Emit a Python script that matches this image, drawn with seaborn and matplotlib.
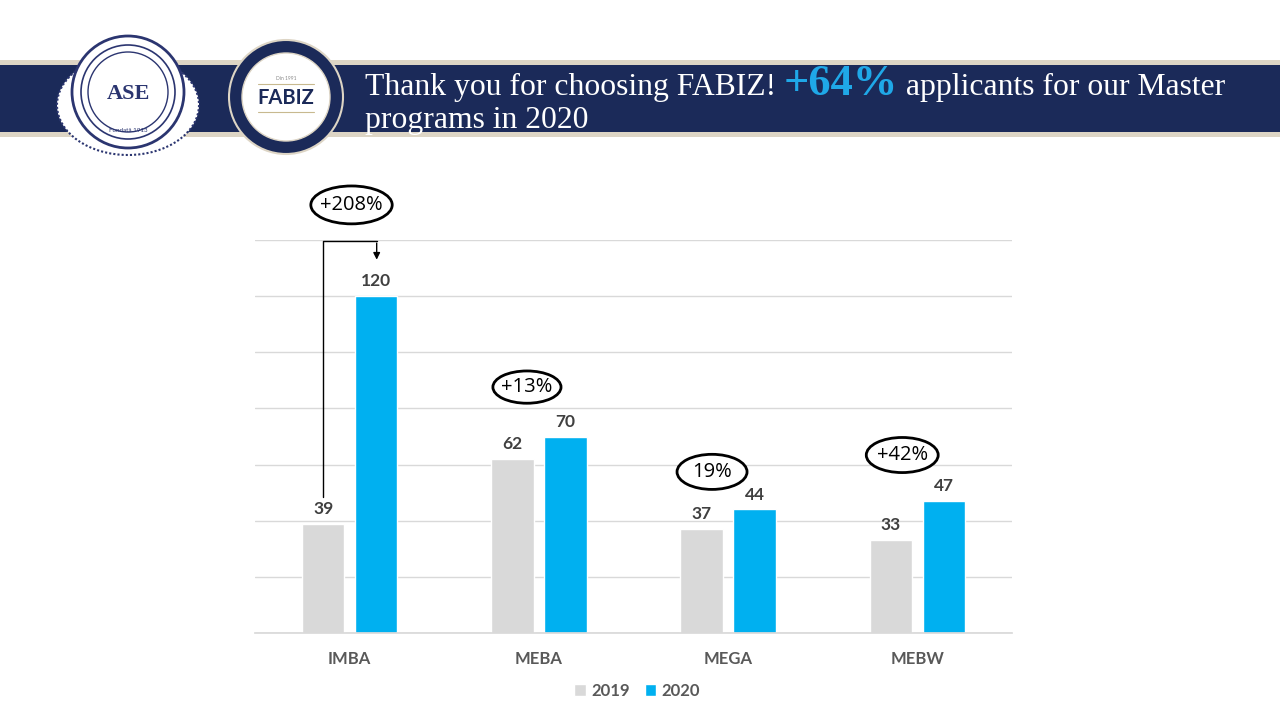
import matplotlib
matplotlib.use("Agg")
import matplotlib.pyplot as plt
import seaborn as sns
import pandas as pd
from matplotlib.patches import Ellipse, Circle, Rectangle

categories = ["IMBA", "MEBA", "MEGA", "MEBW"]
years = ["2019", "2020"]
values_2019 = [39, 62, 37, 33]
values_2020 = [120, 70, 44, 47]
change_labels = ["+208%", "+13%", "19%", "+42%"]

df = pd.DataFrame({
    "program": categories * 2,
    "year": [years[0]] * 4 + [years[1]] * 4,
    "applicants": values_2019 + values_2020,
})

sns.set_theme(style="white")
plt.rcParams["font.family"] = ["Lato", "DejaVu Sans"]

fig = plt.figure(figsize=(12.8, 7.2), dpi=100)

# header / decoration layer in pixel coordinates
bg = fig.add_axes([0, 0, 1, 1], zorder=0)
bg.set_xlim(0, 1280)
bg.set_ylim(720, 0)
bg.axis("off")
bg.add_patch(Rectangle((0, 60), 1280, 77, color="#DDD5C5", lw=0))
bg.add_patch(Rectangle((0, 65), 1280, 67, color="#1B2A59", lw=0))

# left logo (ASE)
bg.add_patch(Ellipse((128, 105), 142, 100, facecolor="white", edgecolor="#2B3570", lw=1.5, ls=(0, (1, 1))))
bg.add_patch(Circle((128, 92), 56, facecolor="white", edgecolor="#2B3570", lw=2))
bg.add_patch(Circle((128, 92), 47, facecolor="white", edgecolor="#2B3570", lw=1.2))
bg.add_patch(Circle((128, 92), 40, facecolor="white", edgecolor="#2B3570", lw=1.0))
bg.text(128, 94, "ASE", ha="center", va="center", fontsize=16, color="#2B3570",
        family="Liberation Serif", fontweight="bold")
bg.text(128, 131, "Fondată 1913", ha="center", va="center", fontsize=4.5, color="#2B3570")

# FABIZ logo
bg.add_patch(Circle((286, 97), 57, facecolor="#1B2A59", edgecolor="#DDD5C5", lw=1.5))
bg.add_patch(Circle((286, 97), 44, facecolor="white", edgecolor="#DDD5C5", lw=1))
bg.text(286, 98, "FABIZ", ha="center", va="center", fontsize=14.5, color="#1B2A59", fontweight="bold")
bg.plot([258, 314], [84, 84], color="#C8B98F", lw=0.8)
bg.plot([258, 314], [112, 112], color="#C8B98F", lw=0.8)
bg.text(286, 78, "Din 1991", ha="center", va="center", fontsize=3.5, color="#888888")

# title
fig.canvas.draw()
renderer = fig.canvas.get_renderer()
title_kw = dict(family="Liberation Serif", color="white", va="baseline")
t1 = bg.text(365, 95, "Thank you for choosing FABIZ! ", fontsize=22.8, **title_kw)
bb = t1.get_window_extent(renderer)
x1 = bg.transData.inverted().transform((bb.x1, bb.y0))[0]
t2 = bg.text(x1, 95, "+64%", fontsize=32, fontweight="bold", family="Liberation Serif",
             color="#1FA8E8", va="baseline")
bb = t2.get_window_extent(renderer)
x2 = bg.transData.inverted().transform((bb.x1, bb.y0))[0]
bg.text(x2, 95, " applicants for our Master", fontsize=22.8, **title_kw)
bg.text(365, 128, "programs in 2020", fontsize=22.8, **title_kw)

# chart
ax = fig.add_axes([255 / 1280, 1 - 633 / 720, 757 / 1280, 393 / 720], zorder=1)
ax.patch.set_alpha(0)
sns.barplot(data=df, x="program", y="applicants", hue="year", order=categories,
            hue_order=years, palette={"2019": "#D9D9D9", "2020": "#00B0F0"},
            width=0.56, gap=0.2, ax=ax, legend=True, saturation=1)
ax.set_xlim(-0.5, 3.5)
ax.set_ylim(0, 140)
ax.set_yticks(range(0, 141, 20))
ax.set_yticklabels([])
ax.tick_params(axis="y", length=0)
ax.tick_params(axis="x", length=0, pad=13)
ax.yaxis.grid(True, color="#D9D9D9", lw=1)
ax.set_axisbelow(True)
for s in ["top", "right", "left"]:
    ax.spines[s].set_visible(False)
ax.spines["bottom"].set_color("#D9D9D9")
ax.set_xlabel("")
ax.set_ylabel("")
for lab in ax.get_xticklabels():
    lab.set_fontsize(12)
    lab.set_fontweight("bold")
    lab.set_color("#595959")

for c in ax.containers:
    ax.bar_label(c, padding=5, fontsize=12.5, fontweight="bold", color="#404040")

# change annotations
ell_pos = [(0.01, 152.5, 0.43, 13.5), (0.937, 87.6, 0.36, 11.5),
           (1.915, 57.4, 0.37, 12.5), (2.92, 63.4, 0.38, 12.5)]
for (ex, ey, ew, eh), lab in zip(ell_pos, change_labels):
    ax.add_patch(Ellipse((ex, ey), ew, eh, facecolor="white", edgecolor="black",
                         lw=2, clip_on=False, zorder=5))
    ax.text(ex, ey, lab, ha="center", va="center", fontsize=14.5, color="black",
            family="Open Sans", zorder=6, clip_on=False)

# bracket arrow on IMBA
ax.plot([-0.143, -0.143, 0.143], [48.4, 139.7, 139.7], color="black", lw=1, clip_on=False, zorder=5)
ax.annotate("", xy=(0.143, 132), xytext=(0.143, 139.9),
            arrowprops=dict(arrowstyle="-|>", color="black", lw=1, mutation_scale=10),
            annotation_clip=False, zorder=5)

# legend
handles, labels = ax.get_legend_handles_labels()
ax.get_legend().remove()
leg = fig.legend(handles, labels, loc="center", bbox_to_anchor=(637 / 1280, 1 - 691 / 720),
                 ncol=2, frameon=False, handlelength=0.7, handleheight=0.7,
                 handletextpad=0.3, columnspacing=0.9, fontsize=12)
for t in leg.get_texts():
    t.set_fontweight("bold")
    t.set_color("#595959")

fig.savefig("out.png", dpi=100)
